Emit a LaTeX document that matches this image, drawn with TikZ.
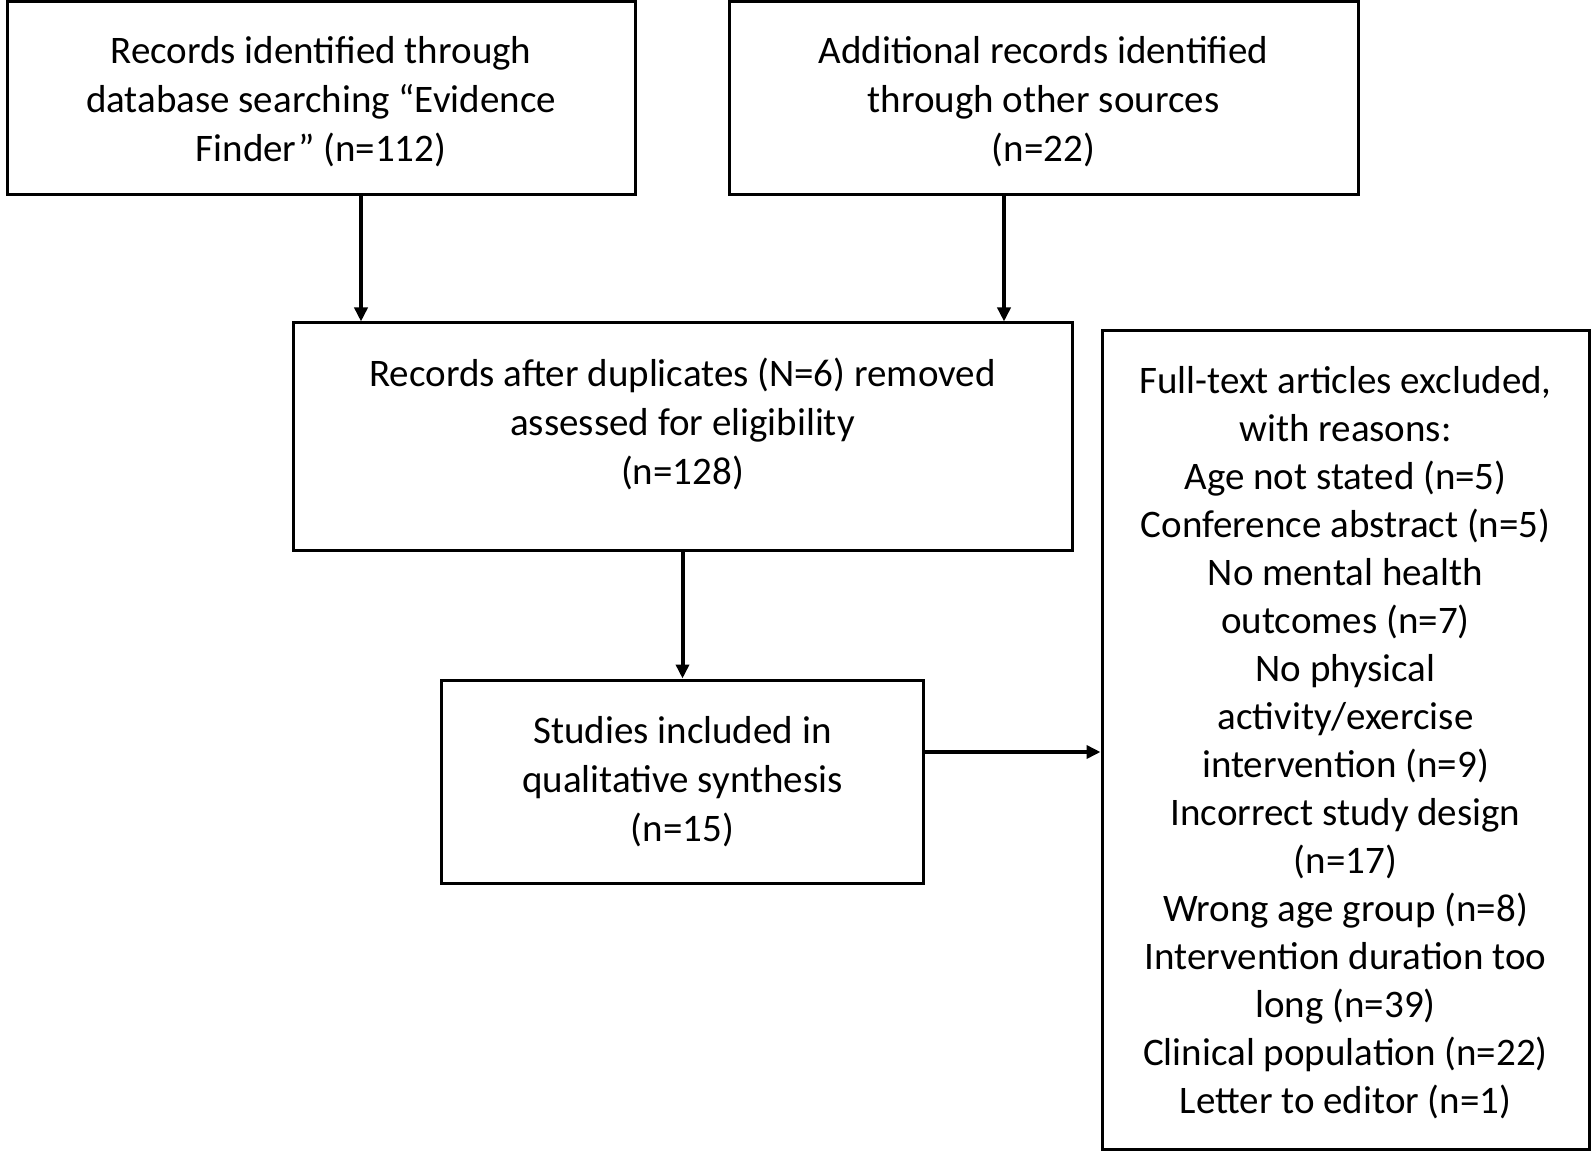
\documentclass[tikz,border=0pt]{standalone}
\usepackage{fontspec}
\setmainfont{Carlito}
\usepackage{tikz}
\usetikzlibrary{arrows.meta,positioning}
\tikzstyle{box} = [rectangle, draw=black, line width=1.5pt, fill=white, text=black, align=center, font=\fontsize{19.5pt}{24.5pt}\selectfont, inner sep=0pt]
\tikzstyle{tedge} = [draw, line width=2pt, -{Triangle[length=7pt,width=6.5pt]}]

\begin{document}
\begin{tikzpicture}
\useasboundingbox (0,0) rectangle (796.5pt,-577pt);

% identification =============================
\node[box, minimum width=314pt, minimum height=96.5pt, text depth=-5pt] (db) at (160.5pt,-49.25pt)
  {Records identified through\\database searching “Evidence\\Finder” (n=112)};
\node[box, minimum width=314.5pt, minimum height=96.5pt, text depth=-5pt, right=45.5pt of db] (other)
  {Additional records identified\\through other sources\\(n=22)};

% screening
\node[box, minimum width=389.5pt, minimum height=113.5pt, text depth=15pt] (screen) at (341.25pt,-218.25pt)
  {Records after duplicates (N=6) removed\\assessed for eligibility\\(n=128)};

% included
\node[box, minimum width=241pt, minimum height=101.5pt, below=63.5pt of screen] (incl)
  {Studies included in\\qualitative synthesis\\(n=15)};

% excluded
\node[box, minimum width=243.5pt, minimum height=409pt, font=\fontsize{19.5pt}{24pt}\selectfont, text depth=-12pt] (excl) at (672.75pt,-370pt)
  {Full-text articles excluded,\\with reasons:\\Age not stated (n=5)\\Conference abstract (n=5)\\No mental health\\outcomes (n=7)\\No physical\\activity/exercise\\intervention (n=9)\\Incorrect study design\\(n=17)\\Wrong age group (n=8)\\Intervention duration too\\long (n=39)\\Clinical population (n=22)\\Letter to editor (n=1)};

% edges
\path[tedge] ([xshift=20pt]db.south) -- ([xshift=20pt]db.south |- screen.north);
\path[tedge] ([xshift=-19.75pt]other.south) -- ([xshift=-19.75pt]other.south |- screen.north);
\path[tedge] (screen.south) -- (screen.south |- incl.north);
\path[tedge] ([yshift=14.75pt]incl.east) -- ([yshift=14.75pt]incl.east -| excl.west);

\end{tikzpicture}
\end{document}
